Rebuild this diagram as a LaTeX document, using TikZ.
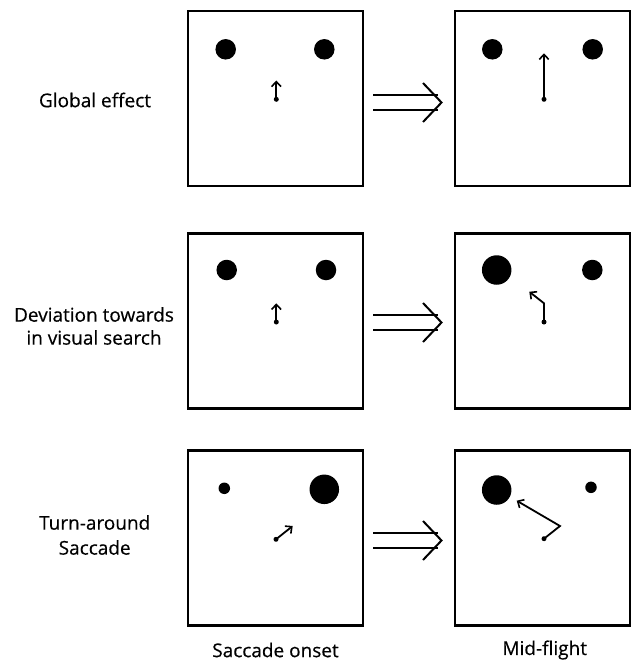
\documentclass[tikz,border=0pt]{standalone}
\usepackage{fontspec}
\setmainfont[FakeBold=0.4]{Open Sans}
\usetikzlibrary{arrows.meta}
\begin{document}
\begin{tikzpicture}[x=1pt,y=-1pt,
  panel/.style={draw=black,line width=2.5pt,minimum width=175pt,minimum height=175pt,inner sep=0pt,outer sep=0pt},
  target/.style={circle,fill=black,inner sep=0pt},
  small/.style={target,minimum size=11.5pt},
  mid/.style={target,minimum size=20.5pt},
  big/.style={target,minimum size=29.5pt},
  start/.style={circle,fill=black,inner sep=0pt,minimum size=5pt},
  sacc/.style={line width=1.8pt,-{Straight Barb[length=5pt,width=9.5pt,line width=1.6pt]}},
  trans/.style={line width=2pt},
  lbl/.style={font=\fontsize{19}{23}\selectfont,align=center},
  captiontext/.style={font=\fontsize{19}{23}\selectfont,align=center}
]
\useasboundingbox (0,0) rectangle (632,664);
% row 1
\node[panel] (p11) at (275.5,98.5) {};
\node[panel] (p12) at (542.5,98.5) {};
\node[mid] (t111) at (225.7,49.3) {};
\node[mid] (t112) at (324.3,49.3) {};
\node[start] (s11) at (276.3,99.3) {};
\coordinate (e11) at (276.3,80.5);
\draw[sacc] (s11.center) -- (e11);
\node[mid] (t121) at (492.3,49.3) {};
\node[mid] (t122) at (592.7,49.3) {};
\node[start] (s12) at (544,99.3) {};
\coordinate (e12) at (544,53.3);
\draw[sacc] (s12.center) -- (e12);
% row 2
\node[panel] (p21) at (275.5,321) {};
\node[panel] (p22) at (542.5,321) {};
\node[mid] (t211) at (226.7,270) {};
\node[mid] (t212) at (326,270) {};
\node[start] (s21) at (276.3,322) {};
\coordinate (e21) at (276.3,303.3);
\draw[sacc] (s21.center) -- (e21);
\node[big] (t221) at (496.7,270) {};
\node[mid] (t222) at (592.3,270) {};
\node[start] (s22) at (544,322) {};
\coordinate (m22) at (544,303.3);
\coordinate (e22) at (529.3,291.7);
\draw[sacc] (s22.center) -- (m22) -- (e22);
% row 3
\node[panel] (p31) at (275.5,538) {};
\node[panel] (p32) at (542.5,538) {};
\node[small] (t311) at (224.3,488.3) {};
\node[big] (t312) at (324.3,489.3) {};
\node[start] (s31) at (276,539.3) {};
\coordinate (e31) at (292.7,526);
\draw[sacc] (s31.center) -- (e31);
\node[big] (t321) at (496.7,490) {};
\node[small] (t322) at (591,487.3) {};
\node[start] (s32) at (544,538.7) {};
\coordinate (m32) at (560,526);
\coordinate (e32) at (516.7,500.7);
\draw[sacc] (s32.center) -- (m32) -- (e32);
% transition arrows
\foreach \r/\y in {1/102.5,2/322.5,3/540.5}{
  \coordinate (a\r) at (373,\y);
  \coordinate (h\r) at (441.5,\y);
  \draw[trans] ([yshift=-7.5pt]a\r) -- ([xshift=-4pt,yshift=-7.5pt]h\r);
  \draw[trans] ([yshift=7.5pt]a\r) -- ([xshift=-4pt,yshift=7.5pt]h\r);
  \draw[trans,line join=miter] ([xshift=-18.5pt,yshift=-19.5pt]h\r) -- (h\r) -- ([xshift=-18.5pt,yshift=19.5pt]h\r);
}
% labels
\node[lbl] (l1) at (95,100) {Global effect};
\node[lbl] (l2) at (94,326) {Deviation towards\\in visual search};
\node[lbl,font=\fontsize{19}{25}\selectfont] (l3) at (94.7,535) {Turn-around\\Saccade};
\node[captiontext] (c1) at (275.5,650) {Saccade onset};
\node[captiontext] (c2) at (544.7,650) {Mid-flight};
\end{tikzpicture}
\end{document}
